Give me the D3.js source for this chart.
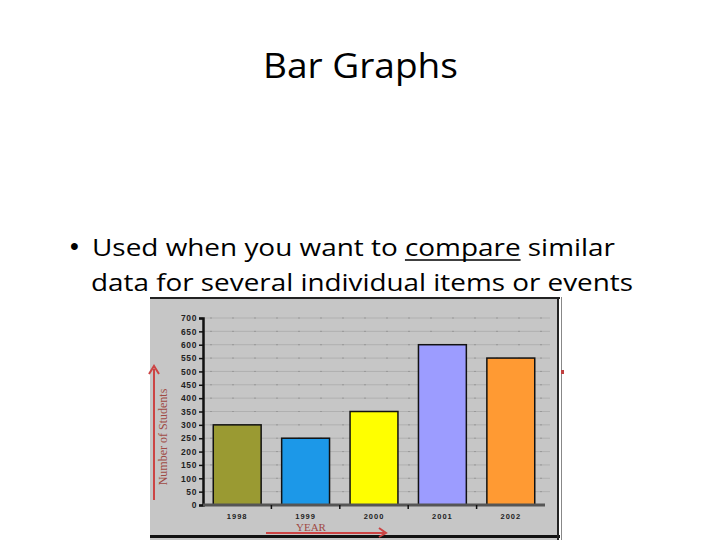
<!DOCTYPE html>
<html>
<head>
<meta charset="utf-8">
<script src="https://cdnjs.cloudflare.com/ajax/libs/d3/7.8.5/d3.min.js"></script>
<style>
  body { margin: 0; background: #fff; }
</style>
</head>
<body>
<div id="slide"></div>
<script>
// chart values
var years = ["1998", "1999", "2000", "2001", "2002"];
var students = [300, 250, 350, 600, 550];
var yTicks = d3.range(0, 701, 50);
var barColors = ["#9a9a32", "#1c98e8", "#ffff00", "#9c9cff", "#ff9a33"];

var svg = d3.select("#slide").append("svg")
  .attr("width", 720)
  .attr("height", 540);

var slideFont = "'Open Sans', Lato, sans-serif";

// slide title
svg.append("text")
  .attr("x", 263)
  .attr("y", 78)
  .attr("textLength", 195)
  .attr("lengthAdjust", "spacingAndGlyphs")
  .style("font-family", slideFont)
  .style("font-size", "34px")
  .text("Bar Graphs");

// bullet text
svg.append("text")
  .attr("x", 70)
  .attr("y", 255)
  .style("font-family", "'Liberation Sans', Arial, sans-serif")
  .style("font-size", "25px")
  .text("\u2022");

var line1 = svg.append("text")
  .attr("x", 92)
  .attr("y", 256)
  .attr("textLength", 523)
  .attr("lengthAdjust", "spacingAndGlyphs")
  .style("font-family", slideFont)
  .style("font-size", "24px")
  .text("Used when you want to compare similar");

// underline under "compare"
var node = line1.node();
var u0 = node.getStartPositionOfChar(22).x;
var u1 = node.getEndPositionOfChar(28).x;
svg.append("line")
  .attr("x1", u0).attr("x2", u1)
  .attr("y1", 260).attr("y2", 260)
  .attr("stroke", "#000")
  .attr("stroke-width", 1.6);

svg.append("text")
  .attr("x", 91)
  .attr("y", 291)
  .attr("textLength", 542)
  .attr("lengthAdjust", "spacingAndGlyphs")
  .style("font-family", slideFont)
  .style("font-size", "24px")
  .text("data for several individual items or events");

// pasted chart picture: gray panel with frame
svg.append("rect")
  .attr("x", 150).attr("y", 298)
  .attr("width", 408).attr("height", 242)
  .attr("fill", "#c6c6c6");
svg.append("rect")
  .attr("x", 150).attr("y", 297)
  .attr("width", 410).attr("height", 2)
  .attr("fill", "#222");
svg.append("rect")
  .attr("x", 150).attr("y", 535)
  .attr("width", 410).attr("height", 3)
  .attr("fill", "#111");
svg.append("rect")
  .attr("x", 557).attr("y", 297)
  .attr("width", 2).attr("height", 243)
  .attr("fill", "#222");
svg.append("rect")
  .attr("x", 561).attr("y", 297)
  .attr("width", 1).attr("height", 243)
  .attr("fill", "#888");
svg.append("rect")
  .attr("x", 561).attr("y", 370)
  .attr("width", 3).attr("height", 4)
  .attr("fill", "#c04040");

// scales
var x = d3.scaleBand()
  .domain(years)
  .range([203, 545])
  .paddingInner(0.3)
  .paddingOuter(0.15);

var y = d3.scaleLinear()
  .domain([0, 700])
  .range([505, 318]);

// gridlines
svg.append("g")
  .selectAll("line")
  .data(yTicks.slice(1))
  .enter()
  .append("line")
  .attr("x1", 203).attr("x2", 550)
  .attr("y1", function (d) { return y(d); })
  .attr("y2", function (d) { return y(d); })
  .attr("stroke", "#b0b0b0")
  .attr("stroke-width", 1);

svg.append("g")
  .selectAll("line")
  .data(yTicks.slice(1))
  .enter()
  .append("line")
  .attr("x1", 210).attr("x2", 550)
  .attr("y1", function (d) { return y(d); })
  .attr("y2", function (d) { return y(d); })
  .attr("stroke", "#999")
  .attr("stroke-width", 1)
  .attr("stroke-dasharray", "2,20");

// bars
svg.append("g")
  .selectAll("rect")
  .data(students)
  .enter()
  .append("rect")
  .attr("x", function (d, i) { return x(years[i]); })
  .attr("y", function (d) { return y(d); })
  .attr("width", x.bandwidth())
  .attr("height", function (d) { return y(0) - y(d); })
  .attr("fill", function (d, i) { return barColors[i]; })
  .attr("stroke", "#111")
  .attr("stroke-width", 1.5);

// y axis
var yAxis = svg.append("g")
  .attr("transform", "translate(203,0)")
  .call(d3.axisLeft(y).tickValues(yTicks).tickSize(4).tickPadding(2));
yAxis.select(".domain").attr("stroke", "#111").attr("stroke-width", 2.5);
yAxis.selectAll(".tick line").attr("stroke", "#111").attr("stroke-width", 1.5);
yAxis.selectAll("text")
  .style("font-family", "'Liberation Sans', Arial, sans-serif")
  .style("font-size", "8.5px")
  .style("font-weight", "bold")
  .style("letter-spacing", "0.6px")
  .attr("fill", "#222");

// x axis
var xAxis = svg.append("g")
  .attr("transform", "translate(0,505)")
  .call(d3.axisBottom(x).tickSize(0).tickPadding(9));
xAxis.select(".domain").remove();
xAxis.selectAll("text")
  .style("font-family", "'Liberation Sans', Arial, sans-serif")
  .style("font-size", "7.5px")
  .style("font-weight", "bold")
  .style("letter-spacing", "1px")
  .attr("fill", "#222");

svg.append("line")
  .attr("x1", 203).attr("x2", 545)
  .attr("y1", y(0)).attr("y2", y(0))
  .attr("stroke", "#555")
  .attr("stroke-width", 3);

// little ticks between categories
svg.append("g")
  .selectAll("line")
  .data(years.slice(1))
  .enter()
  .append("line")
  .attr("x1", function (d) { return x(d) - x.step() * x.paddingInner() / 2; })
  .attr("x2", function (d) { return x(d) - x.step() * x.paddingInner() / 2; })
  .attr("y1", y(0)).attr("y2", y(0) + 4)
  .attr("stroke", "#111")
  .attr("stroke-width", 1.5);

// axis titles with red arrows
var red = "#cc4444";
svg.append("text")
  .attr("transform", "translate(167,437) rotate(-90)")
  .attr("text-anchor", "middle")
  .style("font-family", "'Liberation Serif', 'DejaVu Serif', serif")
  .style("font-size", "12px")
  .attr("fill", "#a04a44")
  .text("Number of Students");

svg.append("line")
  .attr("x1", 154).attr("x2", 154)
  .attr("y1", 500).attr("y2", 369)
  .attr("stroke", red).attr("stroke-width", 2);
svg.append("path")
  .attr("d", "M149,374 L154,366 L159,374")
  .attr("fill", "none").attr("stroke", red).attr("stroke-width", 2);

svg.append("text")
  .attr("x", 311)
  .attr("y", 531)
  .attr("text-anchor", "middle")
  .style("font-family", "'Liberation Serif', 'DejaVu Serif', serif")
  .style("font-size", "11px")
  .attr("fill", "#a04a44")
  .text("YEAR");

svg.append("line")
  .attr("x1", 266).attr("x2", 384)
  .attr("y1", 533).attr("y2", 533)
  .attr("stroke", red).attr("stroke-width", 2);
svg.append("path")
  .attr("d", "M379,528 L386,533 L379,537")
  .attr("fill", "none").attr("stroke", red).attr("stroke-width", 2);
</script>
</body>
</html>
